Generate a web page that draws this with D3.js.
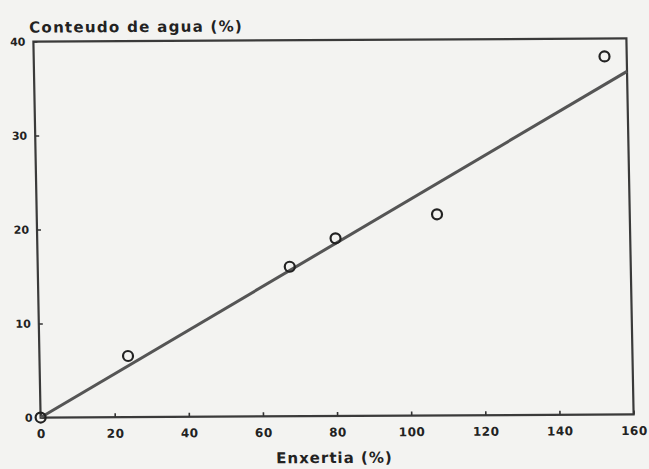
<!DOCTYPE html>
<html><head><meta charset="utf-8">
<script src="https://cdn.jsdelivr.net/npm/d3@7"></script>
<style>
html,body{margin:0;padding:0;background:#f3f3f1;}
svg{display:block;}
text{font-family:"DejaVu Sans",sans-serif;font-weight:bold;fill:#222;}
</style></head>
<body>
<svg id="chart" width="649" height="469"></svg>
<script>
const xValues = [0, 23.9, 68, 80.5, 108, 154];
const yValues = [0, 6.5, 15.9, 18.9, 21.4, 38.1];
const fitX = [0, 160];
const fitY = [0, 36.5];
const xTicks = [0, 20, 40, 60, 80, 100, 120, 140, 160];
const yTicks = [0, 10, 20, 30, 40];
const xTitle = "Enxertia (%)";
const yTitle = "Conteudo de agua (%)";

const svg = d3.select("#chart");
const mLeft = 37, mRight = 630, mTop = 40, mBottom = 416;
const cx = (mLeft+mRight)/2, cy = (mTop+mBottom)/2;
const g = svg.append("g").attr("transform", `translate(${cx},${cy}) rotate(-0.3) skewX(0.8) translate(${-cx},${-cy})`);

const x = d3.scaleLinear().domain([0,160]).range([mLeft,mRight]);
const y = d3.scaleLinear().domain([0,40]).range([mBottom,mTop]);

// frame
g.append("rect").attr("x",mLeft).attr("y",mTop).attr("width",mRight-mLeft).attr("height",mBottom-mTop)
 .attr("fill","none").attr("stroke","#3a3a3a").attr("stroke-width",2.2);

// x axis
const xAxis = g.append("g").attr("transform",`translate(0,${mBottom})`)
 .call(d3.axisBottom(x).tickValues(xTicks).tickSize(-4).tickPadding(12).tickFormat(d3.format("d")));
xAxis.select(".domain").remove();
xAxis.selectAll("line").attr("stroke","#333").attr("stroke-width",1.6);
xAxis.selectAll("text").attr("font-size",12).attr("letter-spacing",0.5).attr("fill","#222");

// y axis
const yAxis = g.append("g").attr("transform",`translate(${mLeft},0)`)
 .call(d3.axisLeft(y).tickValues(yTicks).tickSize(-4).tickPadding(8).tickFormat(d3.format("d")));
yAxis.select(".domain").remove();
yAxis.selectAll("line").attr("stroke","#333").attr("stroke-width",1.6);
yAxis.selectAll("text").attr("font-size",11).attr("fill","#222");

// fit line
g.append("path").datum(fitX.map((d,i)=>[d,fitY[i]]))
 .attr("d", d3.line().x(d=>x(d[0])).y(d=>y(d[1])))
 .attr("fill","none").attr("stroke","#555").attr("stroke-width",3);

// points
g.selectAll("circle.pt").data(xValues.map((d,i)=>[d,yValues[i]])).enter().append("circle")
 .attr("class","pt").attr("cx",d=>x(d[0])).attr("cy",d=>y(d[1])).attr("r",5)
 .attr("fill","none").attr("stroke","#222").attr("stroke-width",2.2);

// titles
g.append("text").attr("x",330).attr("y",463).attr("text-anchor","middle")
 .attr("font-size",15).attr("letter-spacing",1).text(xTitle);
g.append("text").attr("x",33).attr("y",31).attr("text-anchor","start")
 .attr("font-size",15).attr("letter-spacing",1.3).text(yTitle);
</script>
</body></html>
